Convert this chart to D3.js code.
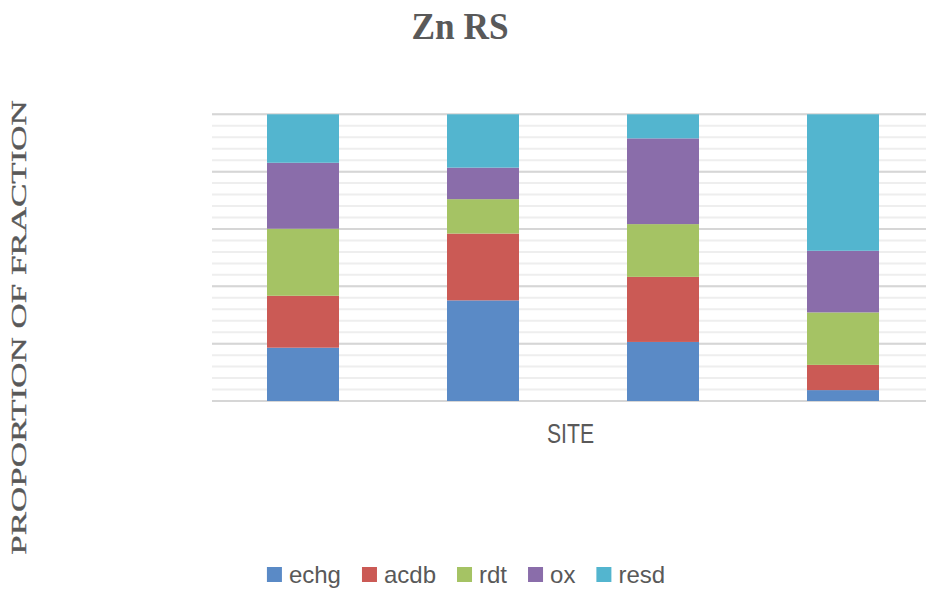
<!DOCTYPE html>
<html><head><meta charset="utf-8">
<script src="https://cdn.jsdelivr.net/npm/d3@7"></script>
<style>html,body{margin:0;padding:0;background:#fff;}svg{display:block;}</style>
</head><body>
<svg id="chart" width="926" height="590"></svg>
<script>
const sites = ["S1", "S2", "S3", "S4"];
const seriesNames = ["echg", "acdb", "rdt", "ox", "resd"];
const echg = [0.186, 0.351, 0.206, 0.038];
const acdb = [0.181, 0.233, 0.227, 0.088];
const rdt  = [0.234, 0.120, 0.184, 0.183];
const ox   = [0.230, 0.110, 0.299, 0.215];
const resd = [0.169, 0.186, 0.084, 0.476];
const colors = ["#5A8AC6", "#CB5A55", "#A5C364", "#8A6DAA", "#53B5CF"];
const majorTicks = [0, 0.2, 0.4, 0.6, 0.8, 1.0];
const minorTicks = d3.range(0, 1.0001, 0.04);

const rows = sites.map((s, i) => ({site: s, echg: echg[i], acdb: acdb[i], rdt: rdt[i], ox: ox[i], resd: resd[i]}));
const stack = d3.stack().keys(seriesNames).offset(d3.stackOffsetExpand);
const stacked = stack(rows);

const svg = d3.select("#chart");
const x = d3.scaleBand().domain(sites).range([213, 933]).paddingInner(0.6).paddingOuter(0.3);
const y = d3.scaleLinear().domain([0, 1]).range([401, 114.3]);
const color = d3.scaleOrdinal().domain(seriesNames).range(colors);

// minor gridlines
svg.append("g").selectAll("line").data(minorTicks).join("line")
  .attr("x1", 212).attr("x2", 933)
  .attr("y1", d => y(d)).attr("y2", d => y(d))
  .attr("stroke", "#eeeeee").attr("stroke-width", 2);
// major gridlines
svg.append("g").selectAll("line").data(majorTicks).join("line")
  .attr("x1", 212).attr("x2", 933)
  .attr("y1", d => y(d)).attr("y2", d => y(d))
  .attr("stroke", "#d6d6d6").attr("stroke-width", 2);

// bars
svg.append("g").selectAll("g").data(stacked).join("g")
  .attr("fill", d => color(d.key))
  .selectAll("rect").data(d => d).join("rect")
  .attr("x", d => x(d.data.site))
  .attr("width", x.bandwidth())
  .attr("y", d => y(d[1]))
  .attr("height", d => y(d[0]) - y(d[1]));

// title
svg.append("text").text("Zn RS")
  .attr("x", 460).attr("y", 39)
  .attr("text-anchor", "middle")
  .attr("font-family", "'Liberation Serif', 'Times New Roman', serif")
  .attr("font-weight", "bold").attr("font-size", 38)
  .attr("textLength", 97).attr("lengthAdjust", "spacingAndGlyphs")
  .attr("fill", "#595959");

// y label
svg.append("text").text("PROPORTION OF FRACTION")
  .attr("transform", "translate(26,327.5) rotate(-90) scale(1,0.57)")
  .attr("text-anchor", "middle")
  .attr("font-family", "'Liberation Serif', 'Times New Roman', serif")
  .attr("font-size", 35)
  .attr("fill", "#595959")
  .attr("stroke", "#595959").attr("stroke-width", 0.6);

// x label
svg.append("text").text("SITE")
  .attr("x", 570.5).attr("y", 443)
  .attr("text-anchor", "middle")
  .attr("font-family", "'Liberation Sans', Arial, sans-serif")
  .attr("font-size", 27)
  .attr("textLength", 47).attr("lengthAdjust", "spacingAndGlyphs")
  .attr("fill", "#595959");

// legend
const lg = svg.append("g");
const items = lg.selectAll("g").data(seriesNames).join("g");
items.append("rect").attr("width", 15).attr("height", 15).attr("y", 567)
  .attr("fill", d => color(d));
items.append("text").text(d => d)
  .attr("y", 583)
  .attr("font-family", "'Liberation Sans', Arial, sans-serif")
  .attr("font-size", 24)
  .attr("fill", "#595959");
let cx = 0;
const pos = [];
items.each(function(d) {
  const w = d3.select(this).select("text").node().getComputedTextLength();
  pos.push(cx);
  cx += 15 + 7 + w + 21;
});
const total = cx - 21;
const start = 466 - total / 2;
items.each(function(d, i) {
  const g = d3.select(this);
  g.select("rect").attr("x", start + pos[i]);
  g.select("text").attr("x", start + pos[i] + 22);
});
</script>
</body></html>
